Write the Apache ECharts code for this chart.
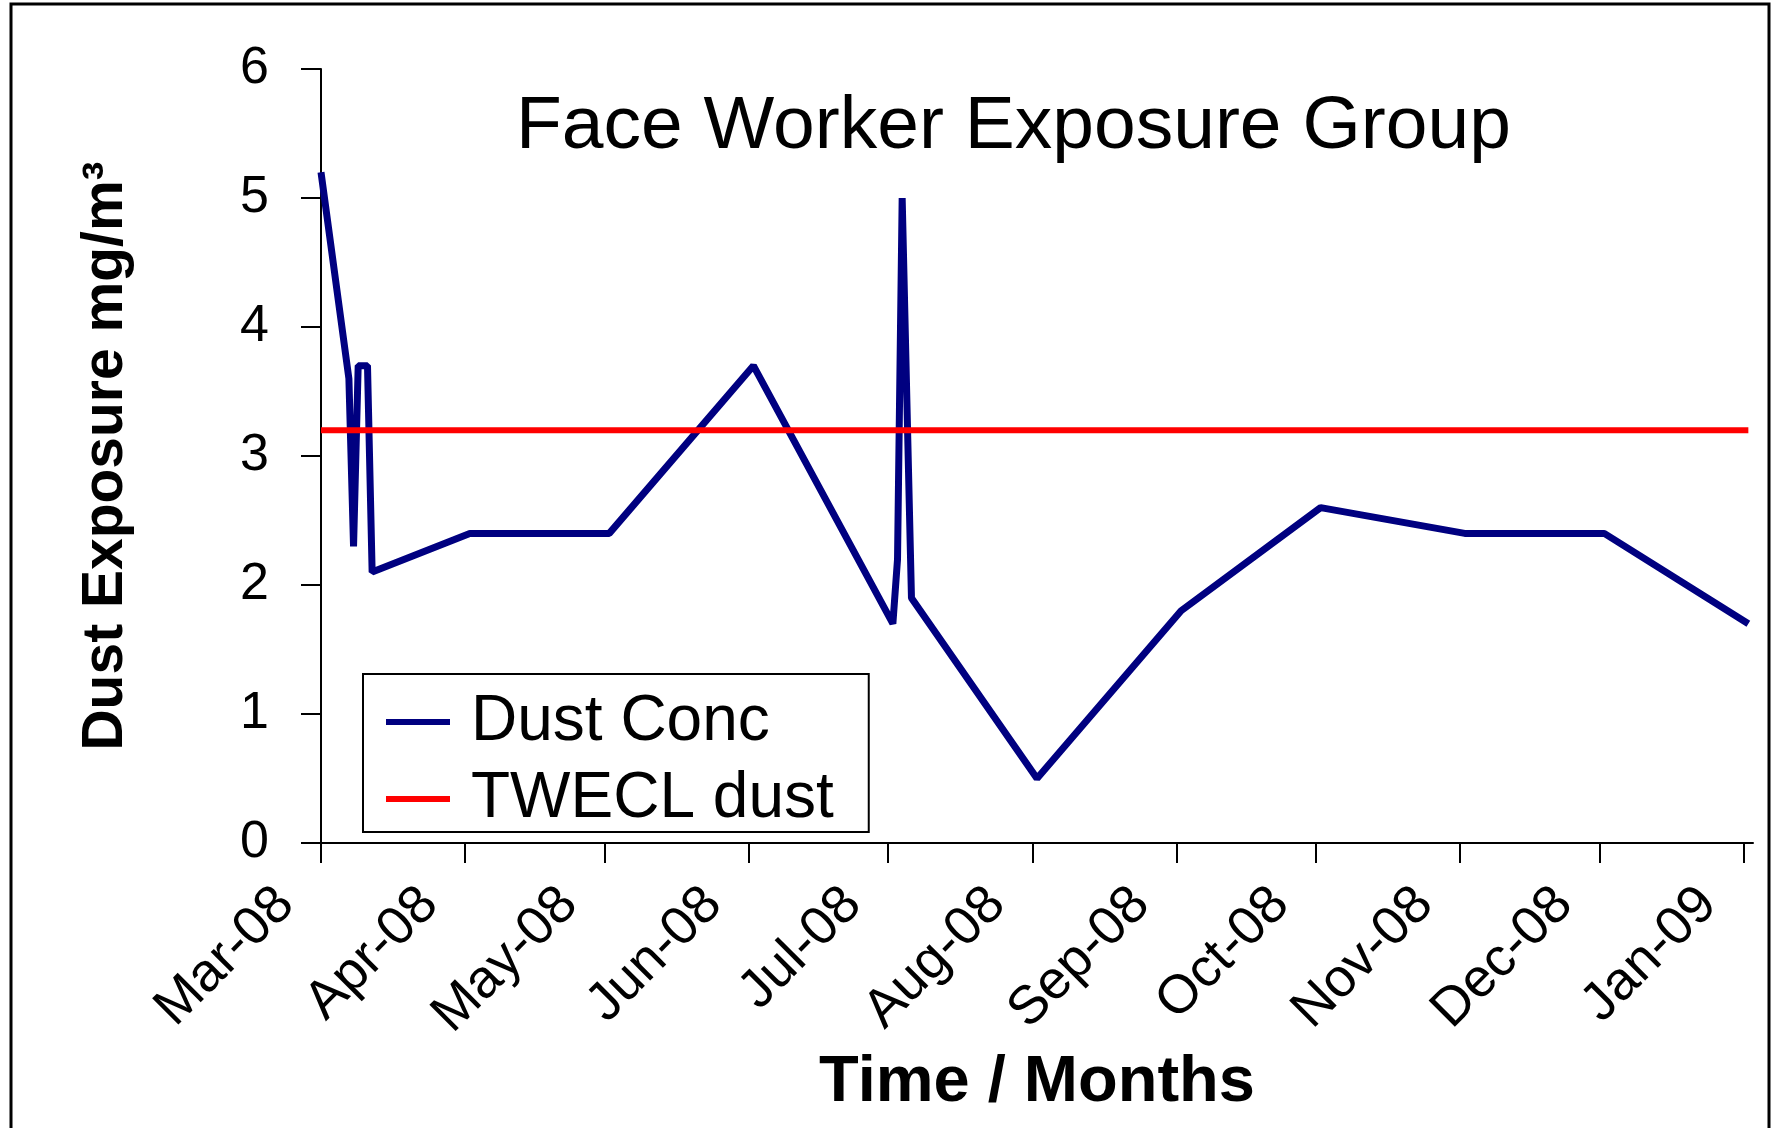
<!DOCTYPE html>
<html>
<head>
<meta charset="utf-8">
<script src="https://cdn.jsdelivr.net/npm/echarts@6/dist/echarts.min.js"></script>
<style>
html,body{margin:0;padding:0;background:#fff;}
#chart{width:1775px;height:1128px;}
</style>
</head>
<body>
<div id="chart"></div>
<script>
// ---- data ----
const dates = ['2008-03-01','2008-03-07','2008-03-08','2008-03-09','2008-03-11','2008-03-12',
  '2008-04-02','2008-05-02','2008-06-02','2008-07-02','2008-07-03','2008-07-04','2008-07-06',
  '2008-08-02','2008-09-02','2008-10-02','2008-11-02','2008-12-02','2009-01-02'];
const dustConc = [5.2, 3.6, 2.3, 3.7, 3.7, 2.1, 2.4, 2.4, 3.7, 1.7, 2.2, 5.0, 1.9, 0.5, 1.8, 2.6, 2.4, 2.4, 1.7];
const tweclDust = [3.2, 3.2, 3.2, 3.2, 3.2, 3.2, 3.2, 3.2, 3.2, 3.2, 3.2, 3.2, 3.2, 3.2, 3.2, 3.2, 3.2, 3.2, 3.2];
const xTickDates = ['2008-03-01','2008-04-01','2008-05-01','2008-06-01','2008-07-01','2008-08-01',
  '2008-09-01','2008-10-01','2008-11-01','2008-12-01','2009-01-01'];
const xTickLabels = ['Mar-08','Apr-08','May-08','Jun-08','Jul-08','Aug-08','Sep-08','Oct-08','Nov-08','Dec-08','Jan-09'];
const xMinDate = '2008-03-01';
const xMaxDate = '2009-01-03';
const yMin = 0, yMax = 6, yInterval = 1;

function toUTC(s){ const p = s.split('-').map(Number); return Date.UTC(p[0], p[1]-1, p[2]); }
const tickVals = xTickDates.map(toUTC);

const FONT = 'Liberation Sans, Arial, sans-serif';
const chart = echarts.init(document.getElementById('chart'));
const option = {
  animation: false,
  backgroundColor: '#ffffff',
  graphic: [{
    type: 'rect', silent: true, z: -10,
    shape: { x: 11, y: 4, width: 1758, height: 1200 },
    style: { fill: 'none', stroke: '#000', lineWidth: 3 }
  }],
  title: {
    text: 'Face Worker Exposure Group',
    left: 511, top: 85,
    textStyle: { fontFamily: FONT, fontSize: 75, fontWeight: 'normal', color: '#000' }
  },
  legend: {
    orient: 'vertical', left: 363, top: 674,
    padding: [16, 35, 1, 23], itemGap: 13,
    itemWidth: 64, itemHeight: 6, icon: 'rect',
    borderColor: '#000', borderWidth: 2, backgroundColor: '#fff',
    textStyle: { fontFamily: FONT, fontSize: 64, color: '#000', padding: [0, 0, 0, 16] },
    data: ['Dust Conc', 'TWECL dust']
  },
  grid: { left: 321, right: 22, top: 69, bottom: 285 },
  xAxis: {
    type: 'value',
    min: toUTC(xMinDate), max: toUTC(xMaxDate),
    axisLine: { show: true, lineStyle: { color: '#000', width: 2 } },
    axisTick: { show: true, length: 20, customValues: tickVals, lineStyle: { color: '#000', width: 2 } },
    axisLabel: {
      customValues: tickVals, rotate: 45, margin: 18, padding: [0, 50, 0, 0],
      fontFamily: FONT, fontSize: 54, color: '#000',
      formatter: function (v) { const i = tickVals.indexOf(v); return i >= 0 ? xTickLabels[i] : ''; }
    },
    splitLine: { show: false },
    name: 'Time / Months', nameLocation: 'middle', nameGap: 208,
    nameTextStyle: { fontFamily: FONT, fontSize: 65, fontWeight: 'bold', color: '#000' }
  },
  yAxis: {
    type: 'value', min: yMin, max: yMax, interval: yInterval,
    axisLine: { show: true, lineStyle: { color: '#000', width: 2 } },
    axisTick: { show: true, length: 20, lineStyle: { color: '#000', width: 2 } },
    axisLabel: { margin: 52, fontFamily: FONT, fontSize: 52, color: '#000' },
    splitLine: { show: false },
    name: 'Dust Exposure mg/m³', nameLocation: 'middle', nameGap: 186,
    nameTextStyle: { fontFamily: FONT, fontSize: 57, fontWeight: 'bold', color: '#000' }
  },
  series: [
    {
      name: 'Dust Conc', type: 'line', symbol: 'none', z: 3,
      data: dates.map((d, i) => [toUTC(d), dustConc[i]]),
      lineStyle: { color: '#000080', width: 7 }, itemStyle: { color: '#000080' }
    },
    {
      name: 'TWECL dust', type: 'line', symbol: 'none', z: 4,
      data: dates.map((d, i) => [toUTC(d), tweclDust[i]]),
      lineStyle: { color: '#ff0000', width: 6 }, itemStyle: { color: '#ff0000' }
    }
  ]
};
chart.setOption(option);
</script>
</body>
</html>
